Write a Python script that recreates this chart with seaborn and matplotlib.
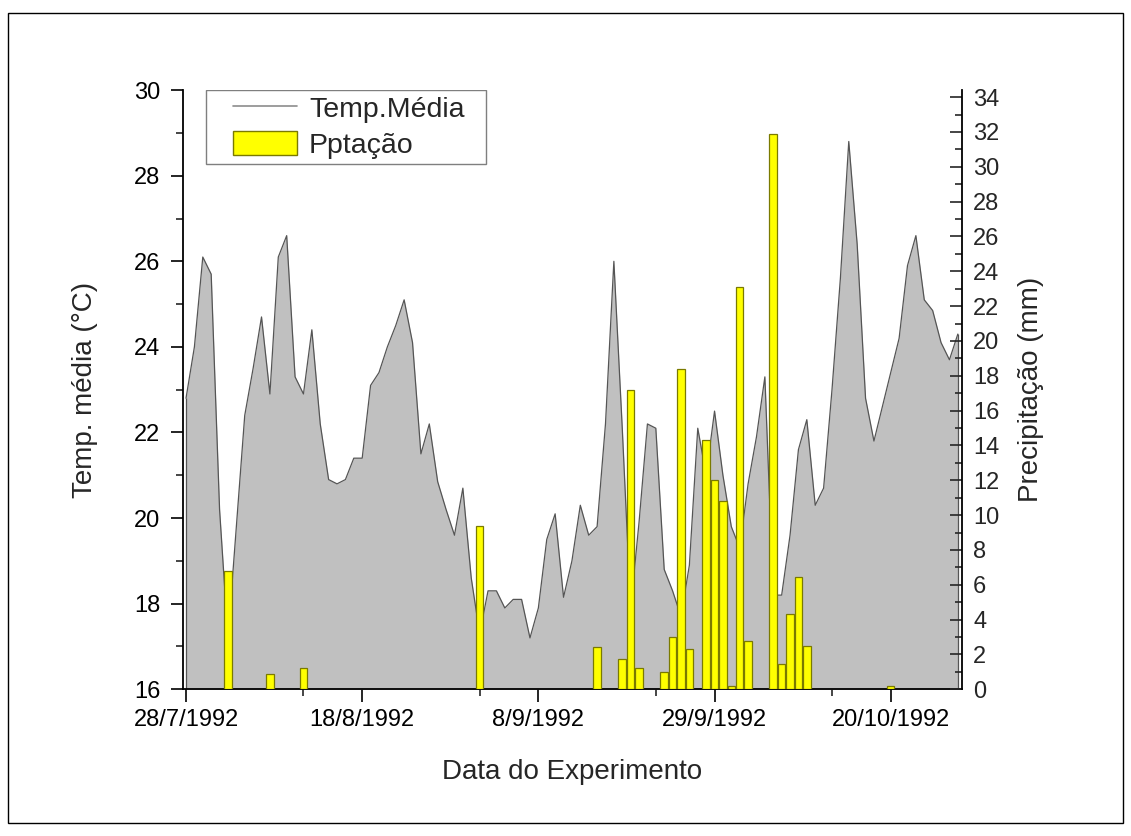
import numpy as np
import pandas as pd
import seaborn as sns
import matplotlib.pyplot as plt
from matplotlib.lines import Line2D
from matplotlib.patches import Patch, Rectangle

sns.set_style("ticks")
plt.rcParams['font.family'] = ['Liberation Sans', 'DejaVu Sans']


# dados (dia 0 = 28/7/1992)

temp_media = [22.8, 24.0, 26.1, 25.7, 20.2, 17.2, 19.8, 22.4, 23.5, 24.7,
              22.9, 26.1, 26.6, 23.3, 22.9, 24.4, 22.2, 20.9, 20.8, 20.9,
              21.4, 21.4, 23.1, 23.4, 24.0, 24.5, 25.1, 24.1, 21.5, 22.2,
              20.85, 20.2, 19.6, 20.7, 18.6, 17.3, 18.3, 18.3, 17.9, 18.1,
              18.1, 17.2, 17.9, 19.5, 20.1, 18.15, 19.0, 20.3, 19.6, 19.8,
              22.2, 26.0, 22.1, 17.9, 19.9, 22.2, 22.1, 18.8, 18.3, 17.7,
              18.9, 22.1, 21.0, 22.5, 21.0, 19.8, 19.3, 20.8, 21.9, 23.3,
              18.2, 18.2, 19.6, 21.6, 22.3, 20.3, 20.7, 23.0, 25.6, 28.8,
              26.4, 22.8, 21.8, 22.6, 23.4, 24.2, 25.9, 26.6, 25.1, 24.85,
              24.1, 23.7, 24.3]

chuva_dias = [5, 10, 14, 35, 49, 52, 53, 54, 57, 58, 59, 60, 62, 63, 64,
              65, 66, 67, 70, 71, 72, 73, 74, 84]
chuva_mm = [6.8, 0.9, 1.25, 9.4, 2.4, 1.75, 17.2, 1.2, 1.0, 3.0, 18.4, 2.3,
            14.3, 12.0, 10.8, 0.2, 23.1, 2.75, 31.9, 1.45, 4.3, 6.45, 2.5, 0.2]

tick_dias = [0, 21, 42, 63, 84]
tick_labels = ['28/7/1992', '18/8/1992', '8/9/1992', '29/9/1992', '20/10/1992']
minor_dias = [14, 35, 56, 77]

temp = pd.DataFrame({'dia': np.arange(len(temp_media)), 'temp': temp_media})
chuva = pd.DataFrame({'dia': chuva_dias, 'mm': chuva_mm})


# figura

fig = plt.figure(figsize=(11.31, 8.36), dpi=100)
ax = fig.add_axes([0.1615, 0.1755, 0.6891, 0.7167])

ax.fill_between(temp['dia'], temp['temp'], 16, color='#c0c0c0', lw=0, zorder=1)
sns.lineplot(data=temp, x='dia', y='temp', color='#555555', lw=0.9, ax=ax, zorder=2)
ax.vlines([temp['dia'].iloc[0], temp['dia'].iloc[-1]], 16,
          [temp['temp'].iloc[0], temp['temp'].iloc[-1]], color='#555555', lw=0.9, zorder=2)

ax2 = ax.twinx()
sns.barplot(data=chuva, x='dia', y='mm', native_scale=True, width=0.9,
            color='#ffff00', saturation=1, edgecolor='#7a7a00', linewidth=0.9,
            errorbar=None, ax=ax2, zorder=3)

ax.set_xlim(-0.4, 92.5)
ax.set_ylim(16, 30)
ax2.set_ylim(0, 34.4)

# eixos
ax.set_xticks(tick_dias)
ax.set_xticklabels(tick_labels)
ax.set_xticks(minor_dias, minor=True)
ax.set_yticks(np.arange(16, 31, 2))
ax.set_yticks(np.arange(17, 30, 2), minor=True)
ax2.set_yticks(np.arange(0, 35, 2))
ax2.set_yticks(np.arange(1, 35, 2), minor=True)

ax.tick_params(axis='both', which='major', direction='out', length=9, width=1.2,
               labelsize=17, colors='black', pad=5)
ax.tick_params(axis='both', which='minor', direction='out', length=5, width=1.2)
ax.tick_params(axis='y', which='major', pad=7)
ax2.tick_params(axis='y', which='major', direction='in', length=9, width=1.2,
                labelsize=17, pad=8)
ax2.tick_params(axis='y', which='minor', direction='in', length=5, width=1.2)

for s in ['top', 'right']:
    ax.spines[s].set_visible(False)
for s in ['top', 'left', 'bottom']:
    ax2.spines[s].set_visible(False)
for s in ['left', 'bottom']:
    ax.spines[s].set_linewidth(1.3)
    ax.spines[s].set_color('black')
ax2.spines['right'].set_linewidth(1.3)
ax2.spines['right'].set_color('black')

ax.set_xlabel('Data do Experimento', fontsize=20, labelpad=20)
ax.set_ylabel('Temp. média (°C)', fontsize=20, labelpad=26)
ax2.set_ylabel('Precipitação (mm)', fontsize=20, labelpad=13)

# legenda
ax2.add_patch(Rectangle((0.0295, 0.8762), 0.3593, 0.1238, transform=ax2.transAxes,
                        facecolor='white', edgecolor='#7f7f7f', lw=1.0, zorder=5))
handles = [Line2D([], [], color='#8c8c8c', lw=1.2),
           Patch(facecolor='#ffff00', edgecolor='#7a7a00')]
leg = ax2.legend(handles, ['Temp.Média', 'Pptação'], loc='upper left',
                 bbox_to_anchor=(0.0645, 0.992), borderaxespad=0, borderpad=0,
                 frameon=False, fontsize=20.5, handlelength=2.25, handleheight=0.9,
                 handletextpad=0.42, labelspacing=0.3)
leg.set_zorder(6)

fig.add_artist(Rectangle((0.0071, 0.0156), 0.9859, 0.9689, transform=fig.transFigure,
                         fill=False, edgecolor='black', lw=1.0))

plt.savefig('out.png', dpi=100)
